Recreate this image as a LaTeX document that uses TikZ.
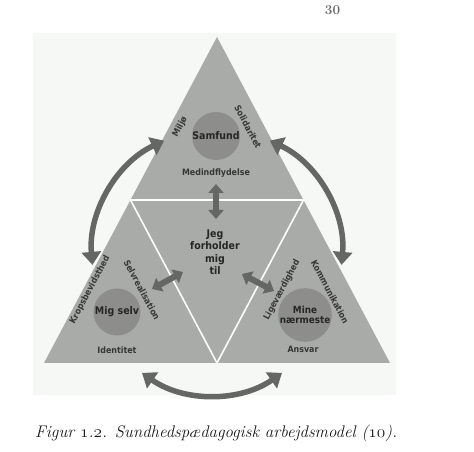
\documentclass[tikz,border=0pt]{standalone}
\usepackage{fontspec}
\newfontfamily\lab{DejaVu Sans Condensed}
\usetikzlibrary{arrows.meta,calc}
\definecolor{bgc}{HTML}{F6F8F6}
\definecolor{trif}{HTML}{A9ABA8}
\definecolor{circf}{HTML}{8D8E8C}
\definecolor{arrc}{HTML}{656765}
\definecolor{txt}{HTML}{262626}
\definecolor{pgn}{HTML}{6A6A6A}
\newcommand\osf[1]{{\usefont{OML}{cmm}{m}{it}#1}}
\tikzset{
  tri/.style={fill=trif, draw=none},
  divline/.style={draw=white, line width=1.6pt},
  circ/.style={circle, fill=circf, minimum size=47pt, inner sep=0pt, align=center, text=txt,
    font=\lab\bfseries\fontsize{10.5}{10}\selectfont},
  lbl/.style={font=\lab\bfseries\fontsize{8.8}{11}\selectfont, text=txt!92, inner sep=0pt},
  curarr/.style={draw=arrc, line width=5.5pt, {Triangle[width=19pt,length=13pt]}-{Triangle[width=19pt,length=13pt]}},
  strarr/.style={draw=arrc, line width=6pt, {Triangle[width=15pt,length=9pt]}-{Triangle[width=15pt,length=9pt]}}
}
\begin{document}
\begin{tikzpicture}[x=1pt,y=1pt]
\useasboundingbox (0,0) rectangle (474,452);
% faint background panel
\fill[bgc] (33,57) rectangle (396,419);
% big triangle
\coordinate (A) at (217,415);
\coordinate (B) at (44,89);
\coordinate (C) at (390,89);
\fill[tri] (A) -- (B) -- (C) -- cycle;
\coordinate (mAB) at ($(A)!0.5!(B)$);
\coordinate (mAC) at ($(A)!0.5!(C)$);
\coordinate (mBC) at ($(B)!0.5!(C)$);
\draw[divline] (mAB) -- (mAC) -- (mBC) -- cycle;
% circles
\node[circ] (samfund) at (216,316) {Samfund};
\node[circ] (migselv) at (117,140) {Mig selv};
\node[circ, font=\lab\bfseries\fontsize{9.8}{10.5}\selectfont] (mine) at (305,137) {Mine\\nærmeste};
% labels top
\node[lbl, rotate=62] (miljo) at (180,325) {Miljø};
\node[lbl, rotate=-62] (solid) at (248,325) {Solidaritet};
\node[lbl] (medind) at (216,279) {Medindflydelse};
% labels left
\node[lbl, rotate=62] (krop) at (90,162) {Kropsbevidsthed};
\node[lbl, rotate=-62] (selv) at (142,162) {Selvrealisation};
\node[lbl] (ident) at (117,102) {Identitet};
% labels right
\node[lbl, rotate=62] (lige) at (282,162) {Ligeværdighed};
\node[lbl, rotate=-62] (komm) at (330,160) {Kommunikation};
\node[lbl] (ansvar) at (303,103) {Ansvar};
% centre
\node[align=center, text=txt, font=\lab\bfseries\fontsize{10.5}{12.5}\selectfont] (ctr) at (215,200) {Jeg\\forholder\\mig\\til};
% straight double arrows
\coordinate (v1) at (216,268);
\coordinate (v2) at (216,233);
\draw[strarr] (v1) -- (v2);
\coordinate (l1) at (152,163);
\coordinate (l2) at (183,180);
\draw[strarr] (l1) -- (l2);
\coordinate (r1) at (242,178);
\coordinate (r2) at (274,161);
\draw[strarr] (r1) -- (r2);
% curved double arrows
\coordinate (O) at (217,198);
\coordinate (Ob) at (212,179);
\draw[curarr] ([shift={(O)}]65:125) arc[start angle=65, end angle=-5, radius=125];
\draw[curarr] ([shift={(O)}]115:125) arc[start angle=115, end angle=185, radius=125];
\draw[curarr] ([shift={(Ob)}]235:122) arc[start angle=235, end angle=305, radius=122];
% caption
\node[anchor=base west, inner sep=0pt, font=\itshape\fontsize{16.8}{20}\selectfont, text=black!90] (cap) at (35,14.3)
  {Figur \osf{1}.\osf{2}. Sundhedspædagogisk arbejdsmodel (\osf{10}).};
% page number
\node[text=pgn, font=\bfseries\fontsize{13.5}{14}\selectfont, inner sep=0pt] (pg) at (332.5,442) {30};
\end{tikzpicture}
\end{document}
